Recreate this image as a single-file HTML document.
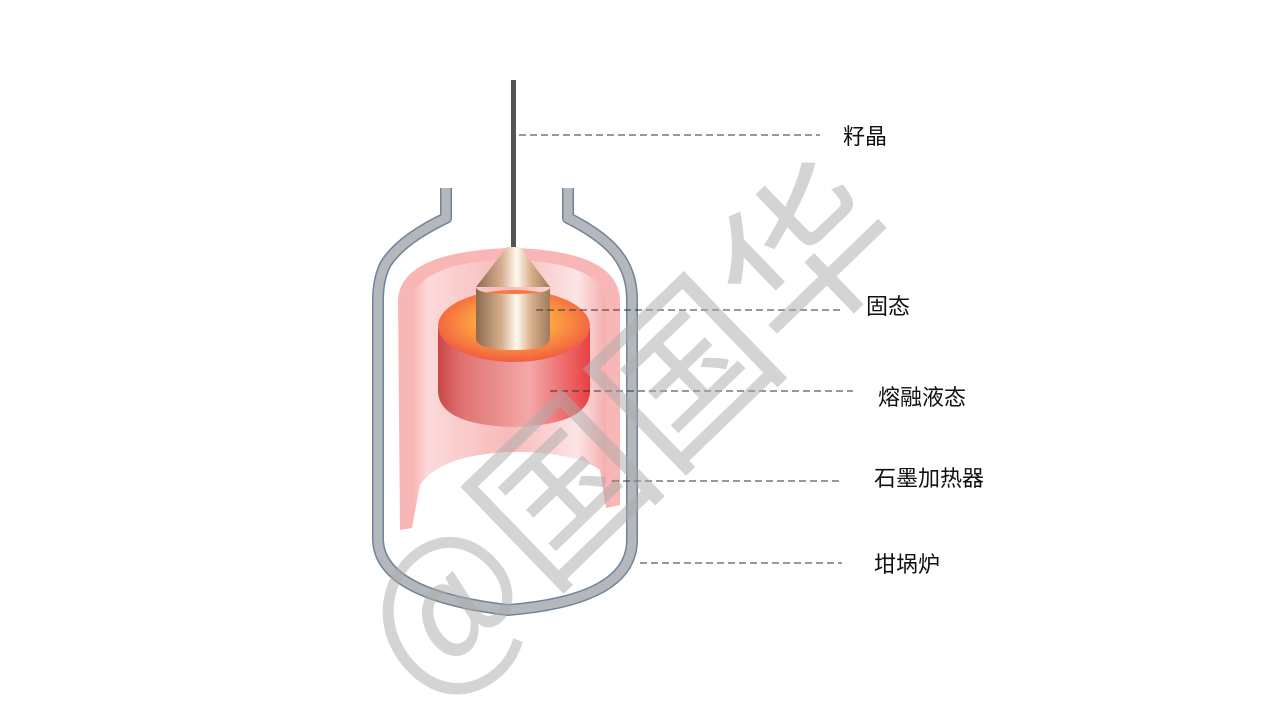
<!DOCTYPE html>
<html><head><meta charset="utf-8"><style>
html,body{margin:0;padding:0;background:#fff;width:1268px;height:714px;overflow:hidden}
svg{display:block;overflow:hidden}
</style></head><body>
<svg width="1268" height="714" viewBox="0 0 1268 714" xmlns="http://www.w3.org/2000/svg">
<defs>
<linearGradient id="heat" x1="0" x2="1" y1="0" y2="0">
<stop offset="0" stop-color="#f7a0a0"/><stop offset="0.08" stop-color="#fbd0d0"/>
<stop offset="0.5" stop-color="#f5a8a8"/><stop offset="0.85" stop-color="#fbdede"/><stop offset="1" stop-color="#f29a9a"/>
</linearGradient>
<linearGradient id="side" x1="0" x2="1">
<stop offset="0" stop-color="#c84848"/><stop offset="0.15" stop-color="#e07070"/>
<stop offset="0.6" stop-color="#f4a8a8"/><stop offset="1" stop-color="#e84040"/>
</linearGradient>
<radialGradient id="top" cx="0.5" cy="0.45" r="0.6">
<stop offset="0" stop-color="#ffe070"/><stop offset="0.45" stop-color="#fba040"/><stop offset="1" stop-color="#f05040"/>
</radialGradient>
<linearGradient id="cu" x1="0" x2="1">
<stop offset="0" stop-color="#8c6a4e"/><stop offset="0.35" stop-color="#d8b090"/>
<stop offset="0.55" stop-color="#fff8ee"/><stop offset="0.75" stop-color="#d7ae8c"/><stop offset="1" stop-color="#a07a5a"/>
</linearGradient>
<clipPath id="frame"><rect x="0" y="0" width="1268" height="714"/></clipPath>
</defs>
<path d="M446 188 V218 Q400 240 385 265 Q378 280 378 300 V540 Q380 595 508 610 Q632 600 632 540 V300 Q632 280 624 265 Q612 240 568 218 V188" fill="none" stroke="#6f8499" stroke-width="12" stroke-linejoin="round"/>
<path d="M446 188 V218 Q400 240 385 265 Q378 280 378 300 V540 Q380 595 508 610 Q632 600 632 540 V300 Q632 280 624 265 Q612 240 568 218 V188" fill="none" stroke="#b4b8bd" stroke-width="9" stroke-linejoin="round"/>
<path d="M398 300 Q400 252 510 248 Q618 250 620 300 V505 L606 508 V300 Q600 262 510 260 Q420 262 412 300 V528 L400 530 Z" fill="#f6a4a4" opacity="0.8"/>
<path d="M412 300 Q420 262 510 260 Q600 262 606 300 V508 L600 470 Q560 450 510 452 Q440 455 420 485 L412 528 Z" fill="url(#heat)" opacity="0.8"/>
<path d="M414 530 L420 485 Q445 455 512 452 Q575 452 600 470 L604 530 Z" fill="#fff"/>
<path d="M438 328 V392 Q440 425 514 427 Q588 425 590 392 V328 Z" fill="url(#side)"/>
<ellipse cx="514" cy="326" rx="76" ry="36" fill="url(#top)"/>
<rect x="511" y="80" width="5" height="168" fill="#555"/>
<path d="M507 247 L520 247 L550 287 L476 287 Z" fill="url(#cu)"/>
<path d="M476 287 V338 Q476 350 513 350 Q550 350 550 338 V287 Q550 294 513 294 Q476 294 476 287Z" fill="url(#cu)"/>
<g stroke="#333" stroke-width="1" stroke-dasharray="7,4">
<line x1="519" y1="135" x2="820" y2="135"/>
<line x1="536" y1="310" x2="840" y2="310"/>
<line x1="550" y1="391" x2="853" y2="391"/>
<line x1="612" y1="481" x2="842" y2="481"/>
<line x1="640" y1="563" x2="842" y2="563"/>
</g>
<g font-family="Liberation Sans, Noto Sans CJK SC, sans-serif" font-size="22" fill="#111">
<text x="843" y="144">籽晶</text>
<text x="866" y="314">固态</text>
<text x="878" y="405">熔融液态</text>
<text x="874" y="486">石墨加热器</text>
<text x="874" y="572">坩埚炉</text>
</g>
<g clip-path="url(#frame)">
<text x="0" y="0" transform="translate(428,706) rotate(-44)" font-family="Noto Sans CJK SC, sans-serif" font-weight="400" font-size="170" fill="#aaaaaa" fill-opacity="0.5">@国国华</text>
</g>
</svg>
</body></html>
